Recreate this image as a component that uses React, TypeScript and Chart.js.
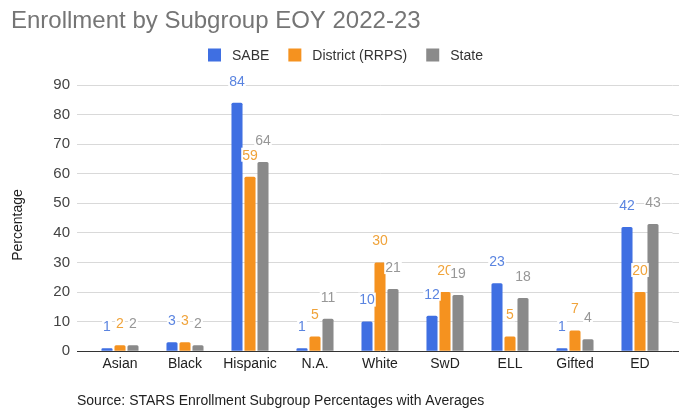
import React, { useEffect, useRef } from "react";
import { Chart, registerables } from "chart.js";

Chart.register(...registerables);

const categories = ["Asian", "Black", "Hispanic", "N.A.", "White", "SwD", "ELL", "Gifted", "ED"];
const sabeValues = [1, 3, 84, 1, 10, 12, 23, 1, 42];
const districtValues = [2, 3, 59, 5, 30, 20, 5, 7, 20];
const stateValues = [2, 2, 64, 11, 21, 19, 18, 4, 43];
const seriesNames = ["SABE", "District (RRPS)", "State"];
const yMin = 0;
const yMax = 90;
const yStep = 10;
const titleText = "Enrollment by Subgroup EOY 2022-23";
const sourceText = "Source: STARS Enrollment Subgroup Percentages with Averages";
const yAxisTitle = "Percentage";

const FONT = "'Liberation Sans', Arial, sans-serif";
const barColors = ["#3f6fe2", "#f5921f", "#8a8a8a"];
const labelColors = ["#5a84e0", "#f0a33a", "#979797"];

const overlayPlugin = {
  id: "overlay",
  beforeDatasetsDraw(chart: any) {
    // extend horizontal gridlines to the right edge of the canvas
    const ctx = chart.ctx;
    const ys = chart.scales.y;
    ctx.save();
    ctx.lineWidth = 1;
    ys.ticks.forEach((t: any) => {
      const py = Math.round(ys.getPixelForValue(t.value)) + 0.5;
      ctx.strokeStyle = t.value === 0 ? "#333333" : "#d9d9d9";
      ctx.beginPath();
      ctx.moveTo(chart.chartArea.right, py);
      ctx.lineTo(chart.width, py);
      ctx.stroke();
    });
    ctx.restore();
  },
  afterDatasetsDraw(chart: any) {
    const ctx = chart.ctx;
    ctx.save();
    ctx.font = `14px ${FONT}`;
    ctx.textAlign = "center";
    ctx.textBaseline = "middle";
    chart.data.datasets.forEach((ds: any, di: number) => {
      const meta = chart.getDatasetMeta(di);
      meta.data.forEach((bar: any, i: number) => {
        const txt = String(ds.data[i]);
        const w = ctx.measureText(txt).width;
        const cy = bar.y - 22;
        ctx.fillStyle = "#ffffff";
        ctx.fillRect(bar.x - w / 2 - 1, cy - 7, w + 2, 14);
        ctx.fillStyle = labelColors[di];
        ctx.fillText(txt, bar.x, cy + 1);
      });
    });
    ctx.restore();
  },
  afterDraw(chart: any) {
    const ctx = chart.ctx;
    ctx.save();
    // Title
    ctx.font = `24px ${FONT}`;
    ctx.fillStyle = "#757575";
    ctx.textAlign = "left";
    ctx.textBaseline = "alphabetic";
    ctx.fillText(titleText, 11, 28);

    // Legend
    ctx.font = `14px ${FONT}`;
    ctx.textBaseline = "middle";
    let x = 208;
    const ly = 55;
    seriesNames.forEach((name, i) => {
      ctx.fillStyle = barColors[i];
      ctx.fillRect(x, ly - 6.5, 13, 13);
      ctx.fillStyle = "#333333";
      ctx.fillText(name, x + 24, ly + 1);
      x += 24 + ctx.measureText(name).width + 19;
    });

    // Y axis title
    ctx.save();
    ctx.translate(18, 225);
    ctx.rotate(-Math.PI / 2);
    ctx.textAlign = "center";
    ctx.fillStyle = "#222222";
    ctx.fillText(yAxisTitle, 0, 0);
    ctx.restore();

    // Source
    ctx.textAlign = "left";
    ctx.fillStyle = "#222222";
    ctx.fillText(sourceText, 77, 401);
    ctx.restore();
  },
};

export default function App() {
  const ref = useRef<HTMLCanvasElement | null>(null);
  useEffect(() => {
    if (!ref.current) return;
    const datasets = [sabeValues, districtValues, stateValues].map((vals, i) => ({
      label: seriesNames[i],
      data: vals,
      backgroundColor: barColors[i],
      borderRadius: 1.5,
      borderSkipped: "bottom" as const,
      categoryPercentage: 0.6,
      barPercentage: 0.85,
    }));
    const chart = new Chart(ref.current, {
      type: "bar",
      data: { labels: categories, datasets },
      options: {
        responsive: false,
        animation: false,
        layout: { padding: { top: 85, bottom: 31, right: 6.5, left: 0 } },
        plugins: {
          legend: { display: false },
          title: { display: false },
          tooltip: { enabled: false },
        },
        scales: {
          x: {
            grid: { display: false, drawTicks: false },
            border: { display: false },
            ticks: {
              font: { family: FONT, size: 14 },
              color: "#222222",
              padding: 5,
              maxRotation: 0,
              autoSkip: false,
            },
          },
          y: {
            min: yMin,
            max: yMax,
            afterFit: (s: any) => {
              s.width = 87.5;
            },
            grid: {
              color: (c: any) => (c.tick && c.tick.value === 0 ? "#333333" : "#d9d9d9"),
              lineWidth: 1,
              drawTicks: true,
              tickLength: 10.5,
            },
            border: { display: false },
            ticks: {
              stepSize: yStep,
              font: { family: FONT, size: 15 },
              color: "#444444",
              padding: 7,
            },
          },
        },
      },
      plugins: [overlayPlugin],
    });
    return () => chart.destroy();
  }, []);
  return (
    <div style={{ position: "fixed", left: 0, top: 0, width: 679, height: 409, background: "#ffffff" }}>
      <canvas ref={ref} width={679} height={409} style={{ display: "block" }} />
    </div>
  );
}
